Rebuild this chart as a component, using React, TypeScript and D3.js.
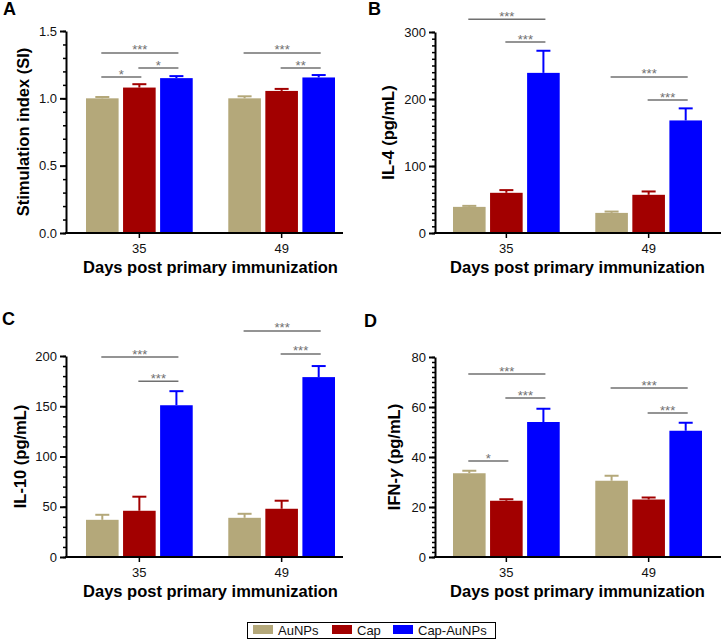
import React, { useEffect, useRef } from "react";
import * as d3 from "d3";

const days = ["35", "49"];
const groups = ["AuNPs", "Cap", "Cap-AuNPs"];
const colors = ["#b4a87a", "#a20000", "#0000ff"];

// mean / error (upper only) per day, per group
const siMean = [[1.0, 1.08, 1.15], [1.0, 1.055, 1.155]];
const siErr = [[0.01, 0.025, 0.015], [0.015, 0.015, 0.018]];
const il4Mean = [[39, 60, 239], [30, 57, 168]];
const il4Err = [[1.5, 4, 33], [2, 5, 18]];
const il10Mean = [[37, 46, 151], [39, 48, 179]];
const il10Err = [[5, 14, 14], [4, 8, 11]];
const ifnMean = [[33.5, 22.5, 54], [30.5, 23, 50.5]];
const ifnErr = [[1, 0.6, 5.3], [2, 0.8, 3.2]];

// significance brackets: [day, from group, to group, y value, label]
const siSig = [
  [0, 0, 2, 1.337, "***"], [0, 0, 1, 1.158, "*"], [0, 1, 2, 1.225, "*"],
  [1, 0, 2, 1.337, "***"], [1, 1, 2, 1.225, "**"],
];
const il4Sig = [
  [0, 0, 2, 319, "***"], [0, 1, 2, 285, "***"],
  [1, 0, 2, 233, "***"], [1, 1, 2, 198.5, "***"],
];
const il10Sig = [
  [0, 0, 2, 199, "***"], [0, 1, 2, 175, "***"],
  [1, 0, 2, 225, "***"], [1, 1, 2, 202, "***"],
];
const ifnSig = [
  [0, 0, 2, 73.2, "***"], [0, 1, 2, 63.6, "***"], [0, 0, 1, 38.4, "*"],
  [1, 0, 2, 67.6, "***"], [1, 1, 2, 57.6, "***"],
];

const FONT = "'Liberation Sans', Arial, sans-serif";

const panels = [
  {
    letter: "A", lx: 3, ly: 15, mean: siMean, err: siErr, sig: siSig,
    max: 1.5, major: 0.5, minor: 0.1, fmt: ".1f",
    axisX: 66, axisRight: 343, yTop: 31, yBottom: 233, barsLeft: 86, barsRight: 335,
    title: "Stimulation index (SI)", titleX: 29,
  },
  {
    letter: "B", lx: 368, ly: 15, mean: il4Mean, err: il4Err, sig: il4Sig,
    max: 300, major: 100, minor: 10, fmt: "d",
    axisX: 435, axisRight: 721, yTop: 32, yBottom: 233, barsLeft: 453, barsRight: 702,
    title: "IL-4 (pg/mL)", titleX: 394,
  },
  {
    letter: "C", lx: 2, ly: 325, mean: il10Mean, err: il10Err, sig: il10Sig,
    max: 200, major: 50, minor: 10, fmt: "d",
    axisX: 66, axisRight: 343, yTop: 356, yBottom: 557, barsLeft: 86, barsRight: 335,
    title: "IL-10 (pg/mL)", titleX: 26,
  },
  {
    letter: "D", lx: 364, ly: 327, mean: ifnMean, err: ifnErr, sig: ifnSig,
    max: 80, major: 20, minor: 2, fmt: "d",
    axisX: 435, axisRight: 721, yTop: 357, yBottom: 557, barsLeft: 453, barsRight: 702,
    title: "IFN-γ (pg/mL)", titleX: 400,
  },
];

function drawPanel(svg: any, p: any) {
  const g = svg.append("g").attr("font-family", FONT);
  const y = d3.scaleLinear().domain([0, p.max]).range([p.yBottom, p.yTop]);
  const x0 = d3.scaleBand().domain(days).range([p.barsLeft, p.barsRight]).paddingInner(0.25);
  const x1 = d3.scaleBand().domain(groups).range([0, x0.bandwidth()]).paddingInner(0.12);
  const center = (di: number, gi: number) =>
    (x0(days[di]) as number) + (x1(groups[gi]) as number) + x1.bandwidth() / 2;

  // bars + error bars
  days.forEach((day, di) => {
    groups.forEach((grp, gi) => {
      const v = p.mean[di][gi];
      const e = p.err[di][gi];
      const bx = (x0(day) as number) + (x1(grp) as number);
      const cx = bx + x1.bandwidth() / 2;
      g.append("line")
        .attr("x1", cx).attr("x2", cx)
        .attr("y1", y(v)).attr("y2", y(v + e))
        .attr("stroke", colors[gi]).attr("stroke-width", 2);
      g.append("line")
        .attr("x1", cx - 7).attr("x2", cx + 7)
        .attr("y1", y(v + e)).attr("y2", y(v + e))
        .attr("stroke", colors[gi]).attr("stroke-width", 2);
      g.append("rect")
        .attr("x", bx).attr("y", y(v))
        .attr("width", x1.bandwidth()).attr("height", y(0) - y(v))
        .attr("fill", colors[gi]);
    });
  });

  // significance lines
  p.sig.forEach(([di, a, b, v, label]: any) => {
    const xa = center(di, a) - 1;
    const xb = center(di, b) + 2;
    g.append("line")
      .attr("x1", xa).attr("x2", xb)
      .attr("y1", y(v)).attr("y2", y(v))
      .attr("stroke", "#707070").attr("stroke-width", 1.5);
    g.append("text")
      .attr("x", (xa + xb) / 2).attr("y", y(v) + 1.5)
      .attr("text-anchor", "middle")
      .attr("font-size", 13).attr("fill", "#707070")
      .text(label);
  });

  // y axis
  const minorTicks = d3.range(0, p.max + p.minor / 2, p.minor);
  const majorTicks = d3.range(0, p.max + p.major / 2, p.major);
  const yMinor = g.append("g")
    .attr("transform", `translate(${p.axisX},0)`)
    .call(d3.axisLeft(y).tickValues(minorTicks).tickSize(3).tickSizeOuter(0).tickFormat(() => ""));
  yMinor.select(".domain").remove();
  yMinor.selectAll("line").attr("stroke", "#000").attr("stroke-width", 1.5);

  const yAxis = g.append("g")
    .attr("transform", `translate(${p.axisX},0)`)
    .call(d3.axisLeft(y).tickValues(majorTicks).tickSize(6).tickSizeOuter(0).tickPadding(3)
      .tickFormat(d3.format(p.fmt) as any));
  yAxis.select(".domain").attr("stroke", "#000").attr("stroke-width", 2);
  yAxis.selectAll("line").attr("stroke", "#000").attr("stroke-width", 2);
  yAxis.selectAll("text").attr("font-size", 13).attr("font-family", FONT).attr("fill", "#111");

  // x axis
  g.append("line")
    .attr("x1", p.axisX - 1).attr("x2", p.axisRight)
    .attr("y1", p.yBottom).attr("y2", p.yBottom)
    .attr("stroke", "#000").attr("stroke-width", 2);
  days.forEach((day) => {
    const cx = (x0(day) as number) + x0.bandwidth() / 2;
    g.append("line")
      .attr("x1", cx).attr("x2", cx)
      .attr("y1", p.yBottom).attr("y2", p.yBottom + 5)
      .attr("stroke", "#000").attr("stroke-width", 1.5);
    g.append("text")
      .attr("x", cx).attr("y", p.yBottom + 20)
      .attr("text-anchor", "middle").attr("font-size", 13).attr("fill", "#111")
      .text(day);
  });
  g.append("text")
    .attr("x", (p.barsLeft + p.barsRight) / 2).attr("y", p.yBottom + 40)
    .attr("text-anchor", "middle").attr("font-size", 16.5).attr("font-weight", "bold")
    .text("Days post primary immunization");

  // y title
  const yt = g.append("text")
    .attr("transform", `translate(${p.titleX},${(p.yTop + p.yBottom) / 2}) rotate(-90)`)
    .attr("text-anchor", "middle").attr("font-size", 16.5).attr("font-weight", "bold");
  if (p.title.includes("γ")) {
    yt.append("tspan").text("IFN-");
    yt.append("tspan").attr("font-style", "italic").text("γ");
    yt.append("tspan").text(" (pg/mL)");
  } else {
    yt.text(p.title);
  }

  // panel letter
  g.append("text")
    .attr("x", p.lx).attr("y", p.ly)
    .attr("font-size", 18).attr("font-weight", "bold")
    .text(p.letter);
}

const App = () => {
  const ref = useRef<SVGSVGElement>(null);

  useEffect(() => {
    const svg = d3.select(ref.current);
    svg.selectAll("*").remove();
    panels.forEach((p) => drawPanel(svg, p));

    // legend
    const lg = svg.append("g").attr("font-family", FONT);
    lg.append("rect")
      .attr("x", 247.5).attr("y", 622.5).attr("width", 248).attr("height", 16)
      .attr("fill", "#fff").attr("stroke", "#000").attr("stroke-width", 1);
    const swatchX = [253, 332, 393];
    groups.forEach((grp, i) => {
      lg.append("rect")
        .attr("x", swatchX[i]).attr("y", 625).attr("width", 20).attr("height", 9)
        .attr("fill", colors[i]);
      lg.append("text")
        .attr("x", swatchX[i] + 25).attr("y", 635)
        .attr("font-size", 13).attr("fill", "#111")
        .text(grp);
    });
  }, []);

  return (
    <svg
      ref={ref}
      width={722}
      height={639}
      style={{ position: "absolute", left: 0, top: 0, background: "#fff" }}
    />
  );
};

export default App;
